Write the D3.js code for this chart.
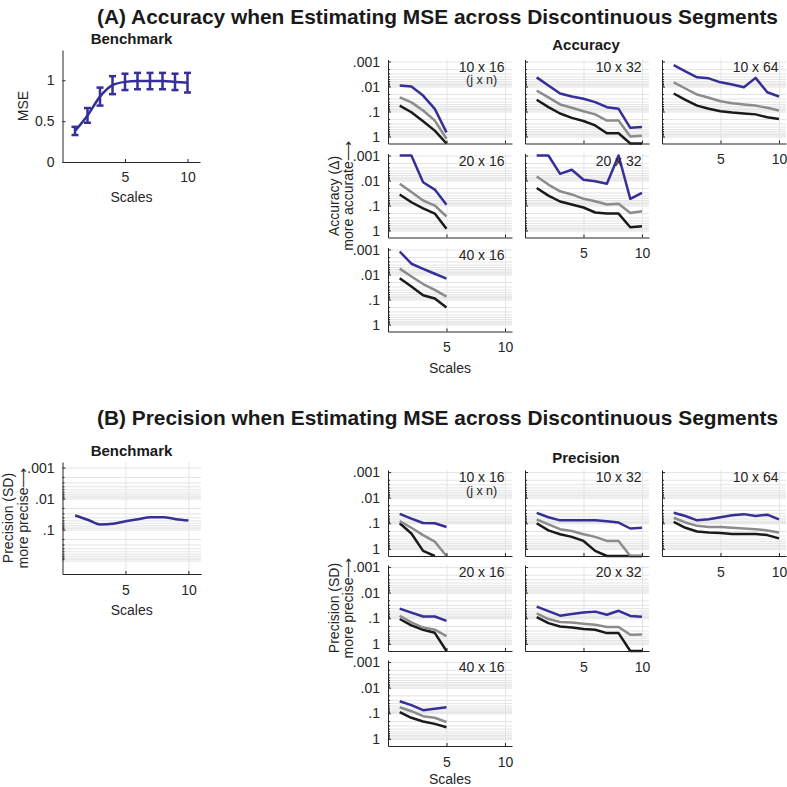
<!DOCTYPE html>
<html>
<head>
<meta charset="UTF-8">
<title>MSE across Discontinuous Segments</title>
<style>
  body { margin: 0; background: #fff; }
  svg { display: block; font-family: "Liberation Sans", Arial, sans-serif; }
</style>
</head>
<body>
<script src="https://cdn.jsdelivr.net/npm/d3@7"></script>
<script>
// abscisses : nombre d'echelles
const scales10 = [1, 2, 3, 4, 5, 6, 7, 8, 9, 10];
const scales5 = [1, 2, 3, 4, 5];

// benchmark
const benchMSE = [0.38, 0.57, 0.80, 0.94, 0.98, 0.99, 0.99, 0.99, 0.98, 0.97];
const benchErr = [0.05, 0.09, 0.11, 0.11, 0.10, 0.10, 0.10, 0.10, 0.10, 0.12];
const benchSD = [0.035, 0.048, 0.068, 0.065, 0.054, 0.046, 0.040, 0.040, 0.046, 0.051];

// accuracy : [bleu, gris, noir]
const acc10x16 = [
  [0.0091, 0.010, 0.023, 0.078, 0.68],
  [0.027, 0.043, 0.091, 0.23, 1.23],
  [0.058, 0.107, 0.245, 0.58, 1.9]];
const acc10x32 = [
  [0.0043, 0.0091, 0.019, 0.025, 0.031, 0.042, 0.067, 0.078, 0.45, 0.42],
  [0.0145, 0.027, 0.052, 0.071, 0.097, 0.13, 0.23, 0.23, 1.0, 0.93],
  [0.034, 0.067, 0.12, 0.18, 0.24, 0.36, 0.74, 0.74, 1.9, 1.9]];
const acc10x64 = [
  [0.0014, 0.0025, 0.0043, 0.0047, 0.0068, 0.0083, 0.0107, 0.0045, 0.017, 0.025],
  [0.0068, 0.012, 0.021, 0.028, 0.039, 0.047, 0.052, 0.058, 0.071, 0.091],
  [0.019, 0.034, 0.058, 0.078, 0.097, 0.11, 0.12, 0.13, 0.17, 0.20]];
const acc20x16 = [
  [0.001, 0.001, 0.0117, 0.023, 0.093],
  [0.0135, 0.029, 0.063, 0.10, 0.275],
  [0.036, 0.074, 0.13, 0.21, 0.85]];
const acc20x32 = [
  [0.001, 0.001, 0.0054, 0.0037, 0.0093, 0.0107, 0.0135, 0.001, 0.054, 0.031],
  [0.0069, 0.0145, 0.027, 0.036, 0.054, 0.067, 0.091, 0.085, 0.20, 0.17],
  [0.020, 0.040, 0.069, 0.091, 0.12, 0.19, 0.21, 0.21, 0.74, 0.68]];
const acc40x16 = [
  [0.0012, 0.0037, 0.0059, 0.0093, 0.0145],
  [0.0058, 0.012, 0.024, 0.041, 0.076],
  [0.014, 0.030, 0.067, 0.091, 0.21]];

// precision : [bleu, gris, noir]
const prec10x16 = [
  [0.043, 0.066, 0.098, 0.10, 0.14],
  [0.083, 0.15, 0.29, 0.52, 1.9],
  [0.10, 0.25, 1.2, 1.9, null]];
const prec10x32 = [
  [0.039, 0.058, 0.077, 0.077, 0.077, 0.077, 0.084, 0.094, 0.16, 0.15],
  [0.071, 0.11, 0.17, 0.20, 0.27, 0.34, 0.49, 0.49, 1.9, 1.9],
  [0.10, 0.19, 0.27, 0.34, 0.49, 1.2, 1.9, 1.9, 1.9, 1.9]];
const prec10x64 = [
  [0.039, 0.052, 0.077, 0.070, 0.058, 0.049, 0.044, 0.052, 0.046, 0.071],
  [0.061, 0.093, 0.126, 0.14, 0.14, 0.15, 0.16, 0.17, 0.19, 0.23],
  [0.089, 0.15, 0.21, 0.23, 0.24, 0.26, 0.26, 0.26, 0.29, 0.39]];
const prec20x16 = [
  [0.042, 0.060, 0.085, 0.085, 0.126],
  [0.080, 0.145, 0.23, 0.28, 0.50],
  [0.107, 0.19, 0.28, 0.37, 1.9]];
const prec20x32 = [
  [0.035, 0.053, 0.079, 0.068, 0.060, 0.055, 0.073, 0.051, 0.081, 0.087],
  [0.065, 0.107, 0.14, 0.147, 0.165, 0.18, 0.22, 0.22, 0.44, 0.43],
  [0.091, 0.155, 0.21, 0.23, 0.26, 0.28, 0.38, 0.38, 1.9, 1.9]];
const prec40x16 = [
  [0.034, 0.048, 0.076, 0.066, 0.058],
  [0.058, 0.083, 0.13, 0.15, 0.22],
  [0.091, 0.15, 0.21, 0.26, 0.35]];

const yMajor = [0.001, 0.01, 0.1, 1];
const xTicks = [5, 10];

// couleurs
const couleurs = ['#352f97', '#8c8c8c', '#1a1a1a'];
const axisColor = '#262626';
const gridColor = '#e4e4e4';
const police = '"Liberation Sans", Arial, sans-serif';

// graduations log mineures entre .001 et 1
const yMinor = [];
[-3, -2, -1].forEach(k => {
  for (let m = 2; m <= 9; m++) yMinor.push(+(m + 'e' + k));
});
const fmtLog = v => v < 1 ? String(v).replace(/^0/, '') : '1';

const svg = d3.select('body').append('svg')
  .attr('width', 787)
  .attr('height', 787);

function styleAxe(a) {
  a.attr('color', axisColor)
    .attr('font-size', 14)
    .attr('font-family', police);
}

function texte(x, y, t, opts = {}) {
  const el = svg.append('text')
    .attr('x', x).attr('y', y)
    .attr('fill', opts.fill || axisColor)
    .attr('font-size', opts.size || 14)
    .attr('font-weight', opts.bold ? 'bold' : null)
    .attr('text-anchor', opts.anchor || 'middle')
    .text(t);
  return el;
}

function texteVertical(x, y, t) {
  svg.append('text')
    .attr('transform', `translate(${x},${y}) rotate(-90)`)
    .attr('text-anchor', 'middle')
    .attr('dy', '0.35em')
    .attr('fill', axisColor)
    .attr('font-size', 14)
    .text(t);
}

// panneau en echelle log (axe inverse : petites valeurs en haut)
function panneauLog(o) {
  const g = svg.append('g').attr('transform', `translate(${o.x},${o.y})`);
  const x = d3.scaleLinear().domain(o.xDomain).range([0, o.w]);
  const y = d3.scaleLog().domain(o.yDomain).range([0, o.h]).clamp(true);

  // grille horizontale
  g.append('g')
    .call(d3.axisLeft(y).tickValues(yMajor.concat(yMinor)).tickSize(-o.w).tickFormat(''))
    .call(a => a.select('.domain').remove())
    .call(a => a.selectAll('line').attr('stroke', gridColor));
  // grille verticale
  g.append('g')
    .attr('transform', `translate(0,${o.h})`)
    .call(d3.axisBottom(x).tickValues(xTicks).tickSize(-o.h).tickFormat(''))
    .call(a => a.select('.domain').remove())
    .call(a => a.selectAll('line').attr('stroke', gridColor));

  // courbes (noir, gris, bleu)
  const ligne = d3.line()
    .defined(d => d[1] != null)
    .x(d => x(d[0]))
    .y(d => y(d[1]))
    .curve(o.curve || d3.curveLinear);
  [2, 1, 0].forEach(i => {
    if (!o.series[i]) return;
    g.append('path')
      .datum(o.xs.map((v, j) => [v, o.series[i][j]]))
      .attr('fill', 'none')
      .attr('stroke', couleurs[i])
      .attr('stroke-width', 2.5)
      .attr('stroke-linejoin', 'round')
      .attr('d', ligne);
  });

  // axes
  g.append('g')
    .call(d3.axisLeft(y).tickValues(yMinor).tickSize(-2).tickFormat(''))
    .call(a => a.select('.domain').remove())
    .call(styleAxe);
  g.append('g')
    .call(d3.axisLeft(y).tickValues(o.yLabels || yMajor).tickSizeInner(-3).tickSizeOuter(0)
      .tickPadding(8).tickFormat(o.showY ? fmtLog : ''))
    .call(styleAxe);
  g.append('g')
    .attr('transform', `translate(0,${o.h})`)
    .call(d3.axisBottom(x).tickValues(xTicks).tickSizeInner(-3).tickSizeOuter(0)
      .tickPadding(11).tickFormat(o.showX ? d3.format('d') : ''))
    .call(styleAxe);

  if (o.label) {
    g.append('text').attr('x', o.w * 0.755).attr('y', 12)
      .attr('text-anchor', 'middle').attr('font-size', 14).attr('fill', axisColor)
      .text(o.label);
  }
  if (o.sub) {
    g.append('text').attr('x', o.w * 0.755).attr('y', 24.5)
      .attr('text-anchor', 'middle').attr('font-size', 12.5).attr('fill', axisColor)
      .text(o.sub);
  }
  if (o.xTitle) {
    g.append('text').attr('x', o.w / 2).attr('y', o.h + (o.xTitleDy || 41))
      .attr('text-anchor', 'middle').attr('font-size', 14).attr('fill', axisColor)
      .text('Scales');
  }
  return { g, x, y };
}

// ---------- titres ----------
texte(97, 24, '(A) Accuracy when Estimating MSE across Discontinuous Segments',
  { bold: true, size: 21, anchor: 'start', fill: '#1a1a1a' })
  .attr('textLength', 681).attr('lengthAdjust', 'spacingAndGlyphs');
texte(97, 425, '(B) Precision when Estimating MSE across Discontinuous Segments',
  { bold: true, size: 21, anchor: 'start', fill: '#1a1a1a' })
  .attr('textLength', 681).attr('lengthAdjust', 'spacingAndGlyphs');

// ---------- (A) benchmark ----------
const bA = { x: 62.5, y: 50, w: 137.5, h: 112 };
const gA = svg.append('g').attr('transform', `translate(${bA.x},${bA.y})`);
const xA = d3.scaleLinear().domain([0, 11]).range([0, bA.w]);
const yA = d3.scaleLinear().domain([0, 1.37]).range([bA.h, 0]);

gA.append('path')
  .datum(scales10.map((v, i) => [v, benchMSE[i]]))
  .attr('fill', 'none')
  .attr('stroke', couleurs[0])
  .attr('stroke-width', 2.5)
  .attr('d', d3.line().x(d => xA(d[0])).y(d => yA(d[1])).curve(d3.curveMonotoneX));

const barres = gA.append('g').attr('stroke', couleurs[0]).attr('stroke-width', 2.5);
scales10.forEach((v, i) => {
  const haut = yA(benchMSE[i] + benchErr[i]), bas = yA(benchMSE[i] - benchErr[i]);
  barres.append('line').attr('x1', xA(v)).attr('x2', xA(v)).attr('y1', haut).attr('y2', bas);
  barres.append('line').attr('x1', xA(v) - 3.5).attr('x2', xA(v) + 3.5).attr('y1', haut).attr('y2', haut);
  barres.append('line').attr('x1', xA(v) - 3.5).attr('x2', xA(v) + 3.5).attr('y1', bas).attr('y2', bas);
});

gA.append('g')
  .call(d3.axisLeft(yA).tickValues([0, 0.5, 1]).tickSizeInner(-3).tickSizeOuter(0)
    .tickPadding(8).tickFormat(d => d === 0.5 ? '0.5' : String(d)))
  .call(styleAxe);
gA.append('g')
  .attr('transform', `translate(0,${bA.h})`)
  .call(d3.axisBottom(xA).tickValues(xTicks).tickSizeInner(-3).tickSizeOuter(0).tickPadding(10))
  .call(styleAxe);

texte(131.5, 44, 'Benchmark', { bold: true, size: 15, fill: '#1a1a1a' });
texte(131.5, 202, 'Scales');
texteVertical(23, 106, 'MSE');

// ---------- grilles ----------
const colX = [388, 525, 662];
const colW = 124;
const rowsA = [59.5, 153.5, 247.5];
const rowsB = [470, 565, 660];

const panneauxA = [
  { c: 0, r: 0, label: '10 x 16', sub: '(j x n)', data: acc10x16, xs: scales5, showY: true },
  { c: 1, r: 0, label: '10 x 32', data: acc10x32, xs: scales10 },
  { c: 2, r: 0, label: '10 x 64', data: acc10x64, xs: scales10, showX: true },
  { c: 0, r: 1, label: '20 x 16', data: acc20x16, xs: scales5, showY: true },
  { c: 1, r: 1, label: '20 x 32', data: acc20x32, xs: scales10, showX: true },
  { c: 0, r: 2, label: '40 x 16', data: acc40x16, xs: scales5, showY: true, showX: true, xTitle: true }
];
const panneauxB = [
  { c: 0, r: 0, label: '10 x 16', sub: '(j x n)', data: prec10x16, xs: scales5, showY: true },
  { c: 1, r: 0, label: '10 x 32', data: prec10x32, xs: scales10 },
  { c: 2, r: 0, label: '10 x 64', data: prec10x64, xs: scales10, showX: true },
  { c: 0, r: 1, label: '20 x 16', data: prec20x16, xs: scales5, showY: true },
  { c: 1, r: 1, label: '20 x 32', data: prec20x32, xs: scales10, showX: true },
  { c: 0, r: 2, label: '40 x 16', data: prec40x16, xs: scales5, showY: true, showX: true, xTitle: true }
];

panneauxA.forEach(p => panneauLog({
  x: colX[p.c], y: rowsA[p.r], w: colW, h: 84,
  xDomain: [0, 10.6], yDomain: [0.00083, 1.9],
  series: p.data, xs: p.xs, label: p.label, sub: p.sub,
  showY: p.showY, showX: p.showX, xTitle: p.xTitle
}));
panneauxB.forEach(p => panneauLog({
  x: colX[p.c], y: rowsB[p.r], w: colW, h: 86,
  xDomain: [0, 10.6], yDomain: [0.00083, 1.9],
  series: p.data, xs: p.xs, label: p.label, sub: p.sub,
  showY: p.showY, showX: p.showX, xTitle: p.xTitle, xTitleDy: 38
}));

texte(586, 50, 'Accuracy', { bold: true, size: 15, fill: '#1a1a1a' });
texte(586, 463, 'Precision', { bold: true, size: 15, fill: '#1a1a1a' });
texteVertical(334, 196, 'Accuracy (\u0394)');
texteVertical(348, 196, 'more accurate\u27F6');
texteVertical(334, 608, 'Precision (SD)');
texteVertical(348, 608, 'more precise\u27F6');

// ---------- (B) benchmark ----------
panneauLog({
  x: 62.5, y: 462, w: 138.5, h: 112,
  xDomain: [0, 11], yDomain: [0.00066, 2.7],
  series: [benchSD], xs: scales10, showY: true, showX: true, xTitle: true,
  yLabels: [0.001, 0.01, 0.1], curve: d3.curveMonotoneX
});
texte(131.5, 456, 'Benchmark', { bold: true, size: 15, fill: '#1a1a1a' });
texteVertical(8, 518, 'Precision (SD)');
texteVertical(23, 518, 'more precise\u27F6');
</script>
</body>
</html>
